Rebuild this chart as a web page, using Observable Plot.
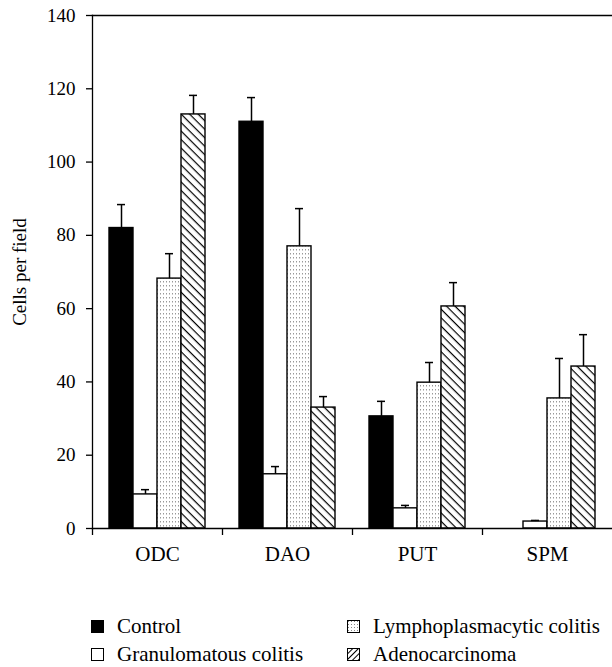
<!DOCTYPE html>
<html>
<head>
<meta charset="utf-8">
<script src="https://cdn.jsdelivr.net/npm/d3@7"></script>
<script src="https://cdn.jsdelivr.net/npm/@observablehq/plot@0.6"></script>
<style>
  body { margin: 0; background: #fff; font-family: "Liberation Serif", "DejaVu Serif", serif; }
  #chart { position: relative; width: 612px; }
  .legend { position: relative; width: 612px; height: 92px; font-family: "Liberation Serif", serif; font-size: 21px; color: #000; }
  .item { position: absolute; display: flex; align-items: center; white-space: nowrap; }
  .item svg { margin-right: 13px; }
</style>
</head>
<body>
<div id="chart"></div>
<script>
const categories = ["ODC", "DAO", "PUT", "SPM"];
const groups = ["Control", "Granulomatous colitis", "Lymphoplasmacytic colitis", "Adenocarcinoma"];
// mean values per category, in group order
const odcValues = [82, 9.3, 68.2, 113];
const daoValues = [111, 14.8, 77, 33];
const putValues = [30.6, 5.5, 39.8, 60.6];
const spmValues = [0, 1.9, 35.5, 44.2];
// upper end of error bars
const odcErr = [88.4, 10.6, 75, 118.2];
const daoErr = [117.6, 16.9, 87.3, 36];
const putErr = [34.7, 6.3, 45.3, 67.1];
const spmErr = [null, 2.2, 46.4, 52.9];
const yTicks = [0, 20, 40, 60, 80, 100, 120, 140];

const valueSets = [odcValues, daoValues, putValues, spmValues];
const errSets = [odcErr, daoErr, putErr, spmErr];
const data = [];
categories.forEach((c, i) => groups.forEach((g, j) => {
  data.push({cat: c, group: g, value: valueSets[i][j], err: errSets[i][j]});
}));
const errData = data.filter(d => d.err != null);

const fills = ["#000", "#fff", "url(#dots)", "url(#hatch)"];
const font = "Liberation Serif";

const plot = Plot.plot({
  width: 612,
  height: 575,
  marginTop: 15,
  marginLeft: 92,
  marginRight: 0,
  marginBottom: 47,
  style: {fontFamily: font, fontSize: "19px", color: "#000", background: "#fff"},
  fx: {domain: categories, padding: 0},
  x: {domain: groups, paddingInner: 0, paddingOuter: 0.708, axis: null},
  y: {domain: [0, 140]},
  color: {domain: groups, range: fills},
  marks: [
    Plot.barY(data, {fx: "cat", x: "group", y: "value", fill: "group", stroke: "#000", strokeWidth: 1.4}),
    Plot.ruleX(errData, {fx: "cat", x: "group", y1: "value", y2: "err", stroke: "#000", strokeWidth: 1.5}),
    Plot.tickY(errData, {fx: "cat", x: "group", y: "err", stroke: "#000", strokeWidth: 1.5, insetLeft: 8, insetRight: 8}),
    Plot.frame({anchor: "top", facet: "super", stroke: "#000", strokeWidth: 1.3}),
    Plot.frame({anchor: "left", facet: "super", stroke: "#000", strokeWidth: 1.3}),
    Plot.frame({anchor: "bottom", facet: "super", stroke: "#000", strokeWidth: 1.3}),
    Plot.axisY({ticks: yTicks, tickSize: 6, tickPadding: 11, fontSize: 19, strokeWidth: 1.3,
      label: "Cells per field", labelAnchor: "center", labelOffset: 80, labelArrow: "none"}),
    Plot.axisFx({anchor: "bottom", tickSize: 0, tickPadding: 18, fontSize: 21, label: null}),
    Plot.axisFx({anchor: "bottom", text: null, tickSize: 7, dx: -65, strokeWidth: 1.3, label: null})
  ]
});

// pattern definitions used by the fills
const defs = d3.create("svg:defs");
const dots = defs.append("pattern").attr("id", "dots").attr("patternUnits", "userSpaceOnUse")
  .attr("width", 3).attr("height", 4);
dots.append("rect").attr("width", 3).attr("height", 4).attr("fill", "#fff");
dots.append("rect").attr("x", 1).attr("y", 1).attr("width", 1).attr("height", 1.5).attr("fill", "#999");
const hatch = defs.append("pattern").attr("id", "hatch").attr("patternUnits", "userSpaceOnUse")
  .attr("width", 6).attr("height", 6).attr("patternTransform", "rotate(45)");
hatch.append("rect").attr("width", 6).attr("height", 6).attr("fill", "#fff");
hatch.append("line").attr("x1", 0).attr("y1", 0).attr("x2", 6).attr("y2", 0).attr("stroke", "#000").attr("stroke-width", 2.4);
const hatch2 = defs.append("pattern").attr("id", "hatchL").attr("patternUnits", "userSpaceOnUse")
  .attr("width", 4).attr("height", 4).attr("patternTransform", "rotate(-45)");
hatch2.append("rect").attr("width", 4).attr("height", 4).attr("fill", "#fff");
hatch2.append("line").attr("x1", 0).attr("y1", 0).attr("x2", 4).attr("y2", 0).attr("stroke", "#000").attr("stroke-width", 2);
const dots2 = defs.append("pattern").attr("id", "dotsL").attr("patternUnits", "userSpaceOnUse")
  .attr("width", 3).attr("height", 3);
dots2.append("rect").attr("width", 3).attr("height", 3).attr("fill", "#fff");
dots2.append("rect").attr("x", 1).attr("y", 1).attr("width", 1).attr("height", 1).attr("fill", "#888");
plot.insertBefore(defs.node(), plot.firstChild);

document.getElementById("chart").appendChild(plot);

// legend
const legendFills = ["#000", "#fff", "url(#dotsL)", "url(#hatchL)"];
const legendPos = [[91, 52], [91, 80], [347, 52], [347, 80]];
const legend = d3.select("#chart").append("div").attr("class", "legend");
groups.forEach((g, i) => {
  const item = legend.append("div").attr("class", "item")
    .style("left", legendPos[i][0] + "px").style("top", (legendPos[i][1] - 13) + "px");
  const s = item.append("svg").attr("width", 13).attr("height", 13);
  s.append("rect").attr("x", 0.5).attr("y", 0.5).attr("width", 12).attr("height", 12)
    .attr("fill", legendFills[i]).attr("stroke", "#000").attr("stroke-width", 1);
  item.append("span").text(g);
});
</script>
</body>
</html>
